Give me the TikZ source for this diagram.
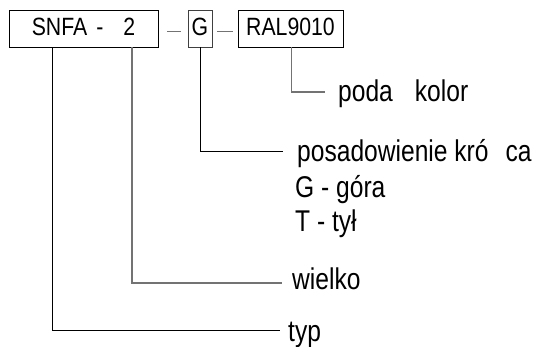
\documentclass[tikz,border=0pt]{standalone}
\usepackage{fontspec}
\setmainfont{Liberation Sans}[FakeStretch=0.82]
\newfontfamily\boxfont{Liberation Sans}[FakeStretch=0.85]
\begin{document}
\begin{tikzpicture}[x=1pt,y=-1pt,
  codebox/.style={draw=black,line width=0.9pt,inner sep=0pt,minimum height=37pt,
    text height=17.5pt,text depth=3.5pt,font=\boxfont\fontsize{25}{28}\selectfont},
  lbl/.style={anchor=base west,inner sep=0pt,font=\fontsize{30}{34}\selectfont},
  conn/.style={line width=1pt,black},
  conng/.style={line width=1.2pt,black!55}]
\useasboundingbox (0,0) rectangle (542,347);
% code boxes
\node[codebox,minimum width=149pt] (snfa) at (83.5,28.5) {SNFA\hspace{9pt}-\hspace{20pt}2};
\node[codebox,minimum width=24pt,draw=black!75] (g) at (200,28.5) {G};
\node[codebox,minimum width=105pt] (ral) at (290.5,28.5) {RAL9010};
% separators
\coordinate (s1a) at (167,32); \coordinate (s1b) at (181,32);
\coordinate (s2a) at (217,32); \coordinate (s2b) at (233,32);
\draw[conng,line width=1pt] (s1a) -- (s1b);
\draw[conng,line width=1pt] (s2a) -- (s2b);
% labels
\node[lbl] (kolor) at (338,102) {poda\hspace{22pt}kolor};
\node[lbl] (pos) at (297,162) {posadowienie kró\hspace{17pt}ca};
\node[lbl] (gora) at (295,198) {G - góra};
\node[lbl] (tyl) at (295,232) {T - tył};
\node[lbl] (wiel) at (292,290) {wielko};
\node[lbl] (typ) at (288,342) {typ};
% connector ends
\coordinate (ekolor) at (325,92);
\coordinate (epos) at (283,152);
\coordinate (ewiel) at (282,283);
\coordinate (etyp) at (280,331);
% connectors
\draw[conng] (ral.south -| 291.5,0) |- (ekolor);
\draw[conn] (g.south) |- (epos);
\draw[conng] (snfa.south -| 132,0) |- (ewiel);
\draw[conn] (snfa.south -| 52,0) |- (etyp);
\end{tikzpicture}
\end{document}
